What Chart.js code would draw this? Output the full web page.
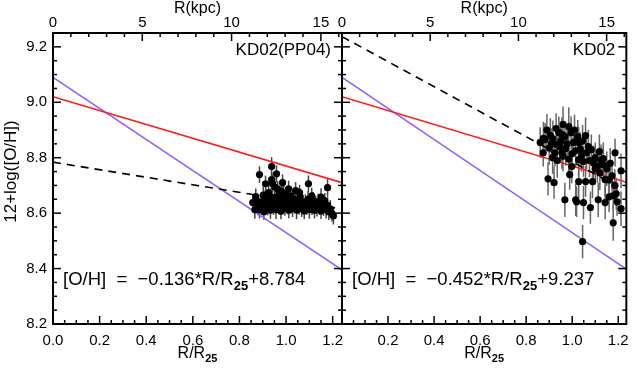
<!DOCTYPE html>
<html>
<head>
<meta charset="utf-8">
<script src="https://cdn.jsdelivr.net/npm/chart.js@4/dist/chart.umd.min.js"></script>
<style>
  html, body { margin: 0; padding: 0; background: #fff; }
  #wrap { position: relative; width: 637px; height: 368px; }
  #wrap canvas { position: absolute; left: 0; top: 0; }
</style>
</head>
<body>
<div id="wrap">
  <canvas id="left" width="637" height="368"></canvas>
  <canvas id="right" width="637" height="368"></canvas>
</div>
<script>
// axes
const xTicksLeft = [0, 0.2, 0.4, 0.6, 0.8, 1.0, 1.2];
const xTicksRight = [0.2, 0.4, 0.6, 0.8, 1.0, 1.2];
const yTicks = [8.2, 8.4, 8.6, 8.8, 9.0, 9.2];
const kpcTicks = [0, 5, 10, 15];
const R25_KPC = 13.05;

// reference gradients (same in both panels)
const refR = [0, 1.24];
const redOH = [9.02, 8.71];
const purpleOH = [9.09, 8.395];

// KD02(PP04) panel
const leftFitR = [0, 1.21];
const leftFitOH = [8.784, 8.619];
const leftR = [0.886,0.938,0.938,0.959,0.912,0.942,0.985,0.964,0.981,1.011,1.041,1.058,1.096,1.178,0.925,0.951,0.970,1.002,
  0.857,0.866,0.874,0.879,0.886,0.893,0.899,0.905,0.910,0.916,0.921,0.928,0.933,0.940,0.946,0.952,0.957,0.962,0.968,0.973,
  0.978,0.984,0.990,0.995,1.000,1.006,1.012,1.017,1.022,1.028,1.033,1.039,1.045,1.050,1.056,1.061,1.067,1.072,1.078,1.083,
  1.089,1.094,1.100,1.105,1.111,1.116,1.122,1.127,1.133,1.138,1.144,1.150,1.155,1.161,1.166,1.172,1.178,1.183,1.190,1.197,
  1.203,0.870,0.902,0.935,0.990,1.020,1.060,1.110,1.150];
const leftOH = [8.739,8.768,8.721,8.742,8.706,8.706,8.710,8.688,8.677,8.688,8.681,8.674,8.706,8.692,8.674,8.695,8.668,8.665,
  8.638,8.612,8.645,8.622,8.612,8.640,8.630,8.605,8.652,8.648,8.620,8.635,8.610,8.642,8.625,8.655,8.612,8.638,8.628,8.648,
  8.607,8.632,8.650,8.618,8.640,8.625,8.610,8.645,8.630,8.617,8.652,8.628,8.610,8.640,8.622,8.648,8.615,8.632,8.608,8.640,
  8.625,8.650,8.612,8.635,8.620,8.645,8.610,8.630,8.618,8.642,8.625,8.608,8.635,8.620,8.645,8.612,8.628,8.605,8.615,8.598,
  8.590,8.660,8.665,8.660,8.672,8.662,8.660,8.662,8.658];
const leftErr = [0.030,0.034,0.028,0.031,0.029,0.033,0.030,0.027,0.032,0.029,0.031,0.028,0.030,0.033,0.029,0.031,0.028,0.030,
  0.029,0.032,0.027,0.030,0.031,0.028,0.033,0.030,0.029,0.031,0.028,0.032,0.030,0.027,0.031,0.029,0.033,0.030,0.028,0.031,
  0.029,0.032,0.030,0.027,0.031,0.029,0.028,0.033,0.030,0.031,0.029,0.027,0.032,0.030,0.028,0.031,0.029,0.033,0.030,0.028,
  0.031,0.029,0.032,0.030,0.027,0.031,0.029,0.033,0.030,0.028,0.031,0.029,0.032,0.030,0.028,0.031,0.029,0.030,0.032,0.028,
  0.031,0.029,0.030,0.032,0.028,0.031,0.029,0.030,0.032];

// KD02 panel
const rightFitR = [0, 1.2];
const rightFitOH = [9.237, 8.695];
const rightR = [0.861,0.882,0.874,0.916,0.942,0.955,0.985,0.968,1.024,1.006,1.058,1.028,0.934,0.946,0.972,0.925,0.955,1.062,
  1.083,1.118,1.135,1.186,1.028,1.049,1.092,1.109,1.135,0.998,0.989,1.173,1.212,0.895,0.921,1.028,1.058,1.088,1.143,
  0.968,1.015,1.019,1.049,1.113,1.079,1.143,1.160,1.178,1.191,1.195,1.212,1.178,1.045,
  0.890,0.905,0.930,0.950,0.960,0.978,0.995,1.010,1.035,1.045,1.070,1.100,1.125,1.150,1.165,0.900,0.915,0.935,0.960,0.985,
  1.000,1.015,1.040,1.075,1.100,1.120,1.160,1.185,0.875,0.910];
const rightOH = [8.855,8.865,8.818,8.869,8.891,8.884,8.912,8.876,8.876,8.855,8.880,8.855,8.847,8.840,8.833,8.818,8.818,8.818,
  8.829,8.822,8.797,8.818,8.793,8.786,8.782,8.768,8.775,8.768,8.739,8.735,8.753,8.724,8.710,8.714,8.714,8.714,8.721,
  8.648,8.648,8.641,8.638,8.648,8.620,8.638,8.659,8.663,8.670,8.641,8.616,8.565,8.497,
  8.900,8.880,8.905,8.860,8.920,8.850,8.890,8.900,8.830,8.860,8.840,8.800,8.790,8.760,8.780,8.835,8.800,8.790,8.805,8.795,
  8.815,8.825,8.805,8.790,8.760,8.745,8.720,8.700,8.870,8.850];
const rightErr = [0.055,0.060,0.050,0.065,0.058,0.062,0.070,0.055,0.060,0.052,0.065,0.058,0.060,0.055,0.062,0.050,0.058,0.060,
  0.055,0.062,0.058,0.050,0.060,0.055,0.062,0.058,0.065,0.060,0.055,0.058,0.062,0.060,0.058,0.062,0.055,0.060,0.058,
  0.062,0.058,0.055,0.060,0.062,0.058,0.060,0.055,0.052,0.058,0.050,0.062,0.065,0.060,
  0.058,0.062,0.055,0.060,0.065,0.058,0.060,0.055,0.062,0.058,0.060,0.055,0.058,0.062,0.055,0.060,0.058,0.062,0.055,0.060,
  0.058,0.062,0.055,0.060,0.058,0.062,0.055,0.058,0.060,0.055];

const FONT = '"Liberation Sans", Arial, sans-serif';

function pts(xs, ys) { return xs.map((x, i) => ({ x: x, y: ys[i] })); }

function drawRich(ctx, parts, x, y, size, align) {
  const fontOf = p => (p.sub ? 'bold ' + Math.round(size * 0.7) : size) + 'px ' + FONT;
  const w = parts.reduce((s, p) => { ctx.font = fontOf(p); return s + ctx.measureText(p.t).width; }, 0);
  let cx = align === 'center' ? x - w / 2 : x;
  ctx.textAlign = 'left';
  parts.forEach(p => {
    ctx.font = fontOf(p);
    ctx.fillText(p.t, cx, p.sub ? y + size * 0.28 : y);
    cx += ctx.measureText(p.t).width;
  });
}

// vertical error bars, drawn under the points
const errorBars = {
  id: 'errorBars',
  beforeDatasetsDraw(chart) {
    const { ctx, scales } = chart;
    const a = chart.chartArea;
    chart.data.datasets.forEach(ds => {
      if (!ds.yErr) return;
      ctx.save();
      ctx.beginPath();
      ctx.rect(a.left, a.top, a.right - a.left, a.bottom - a.top);
      ctx.clip();
      ctx.strokeStyle = ds.errColor;
      ctx.lineWidth = 1.5;
      ds.data.forEach((p, j) => {
        const px = scales.x.getPixelForValue(p.x);
        ctx.beginPath();
        ctx.moveTo(px, scales.y.getPixelForValue(p.y - ds.yErr[j]));
        ctx.lineTo(px, scales.y.getPixelForValue(p.y + ds.yErr[j]));
        ctx.stroke();
      });
      ctx.restore();
    });
  }
};

// box with inward ticks on all sides, like the original plot
const frame = {
  id: 'frame',
  afterDraw(chart) {
    const { ctx, scales } = chart;
    const a = chart.chartArea;
    const eps = 1e-6;
    ctx.save();
    ctx.strokeStyle = '#000';
    ctx.lineWidth = 1.5;
    for (let v = 0; v <= scales.x.max + eps; v += 0.05) {
      const px = scales.x.getPixelForValue(v);
      const major = Math.abs(v / 0.2 - Math.round(v / 0.2)) < 1e-3;
      ctx.beginPath(); ctx.moveTo(px, a.bottom); ctx.lineTo(px, a.bottom - (major ? 8 : 4)); ctx.stroke();
    }
    for (let v = 0; v <= scales.x2.max + eps; v += 1) {
      const px = scales.x2.getPixelForValue(v);
      const major = v % 5 === 0;
      ctx.beginPath(); ctx.moveTo(px, a.top); ctx.lineTo(px, a.top + (major ? 8 : 4)); ctx.stroke();
    }
    for (let v = 8.2; v <= scales.y.max + eps; v += 0.05) {
      const py = scales.y.getPixelForValue(v);
      const k = (v - 8.2) / 0.2;
      const major = Math.abs(k - Math.round(k)) < 1e-3;
      const len = major ? 8 : 4;
      ctx.beginPath(); ctx.moveTo(a.left, py); ctx.lineTo(a.left + len, py); ctx.stroke();
      ctx.beginPath(); ctx.moveTo(a.right, py); ctx.lineTo(a.right - len, py); ctx.stroke();
    }
    ctx.lineWidth = 2;
    ctx.strokeRect(a.left, a.top, a.right - a.left, a.bottom - a.top);
    ctx.restore();
  }
};

const panelText = {
  id: 'panelText',
  afterDraw(chart, args, o) {
    const { ctx } = chart;
    const a = chart.chartArea;
    const cx = (a.left + a.right) / 2;
    ctx.save();
    ctx.fillStyle = '#000';
    ctx.textBaseline = 'middle';
    ctx.font = '16px ' + FONT;
    ctx.textAlign = 'center';
    ctx.fillText('R(kpc)', cx, 9);
    drawRich(ctx, [{ t: 'R/R' }, { t: '25', sub: true }], cx, 354, 16, 'center');
    ctx.font = '17px ' + FONT;
    ctx.textAlign = 'right';
    ctx.fillText(o.label, a.right - 11, 50);
    ctx.textBaseline = 'alphabetic';
    drawRich(ctx, [{ t: '[O/H]  =  \u2212' + o.slope + '*R/R' }, { t: '25', sub: true }, { t: '+' + o.zero }],
      a.left + 10, 285, 18.5, 'left');
    if (o.yTitle) {
      ctx.translate(11, (a.top + a.bottom) / 2 - 7);
      ctx.rotate(-Math.PI / 2);
      ctx.textAlign = 'center';
      ctx.textBaseline = 'middle';
      ctx.font = '17px ' + FONT;
      ctx.fillText(o.yTitle, 0, 0);
    }
    ctx.restore();
  }
};

function makePanel(id, p) {
  const tickFont = { family: FONT, size: 15 };
  return new Chart(document.getElementById(id), {
    type: 'scatter',
    data: {
      datasets: [
        { data: pts(p.r, p.oh), yErr: p.err, errColor: p.errColor, backgroundColor: '#000',
          borderWidth: 0, pointRadius: 3.6, order: 0 },
        { data: pts(p.fitR, p.fitOH), showLine: true, borderColor: '#000', borderWidth: 1.6,
          borderDash: [8, 6], pointRadius: 0, order: 1 },
        { data: pts(refR, redOH), showLine: true, borderColor: '#ff1a1a', borderWidth: 1.6, pointRadius: 0, order: 2 },
        { data: pts(refR, purpleOH), showLine: true, borderColor: '#8c5aff', borderWidth: 1.6, pointRadius: 0, order: 3 }
      ]
    },
    options: {
      responsive: false,
      animation: false,
      layout: { padding: p.padding },
      plugins: {
        legend: { display: false },
        tooltip: { enabled: false },
        panelText: { label: p.label, slope: p.slope, zero: p.zero, yTitle: p.yTitle }
      },
      scales: {
        x: {
          type: 'linear', position: 'bottom', min: 0, max: p.xMax,
          afterBuildTicks: s => { s.ticks = p.xTicks.map(v => ({ value: v })); },
          afterFit: s => { s.height = 44; },
          grid: { display: false, drawTicks: false },
          border: { display: false },
          ticks: { font: tickFont, color: '#000', padding: 8, maxRotation: 0, autoSkip: false,
            callback: v => v.toFixed(1) }
        },
        x2: {
          type: 'linear', position: 'top', min: 0, max: p.xMax * R25_KPC,
          afterBuildTicks: s => { s.ticks = kpcTicks.map(v => ({ value: v })); },
          afterFit: s => { s.height = 33; },
          grid: { display: false, drawTicks: false },
          border: { display: false },
          ticks: { font: tickFont, color: '#000', padding: 1, maxRotation: 0, autoSkip: false }
        },
        y: {
          display: p.showY, min: 8.2, max: 9.25,
          afterBuildTicks: s => { s.ticks = yTicks.map(v => ({ value: v })); },
          afterFit: s => { s.width = p.showY ? 53 : 0; },
          grid: { display: false, drawTicks: false },
          border: { display: false },
          ticks: { font: tickFont, color: '#000', padding: 6, callback: v => v.toFixed(1) }
        }
      }
    },
    plugins: [errorBars, frame, panelText]
  });
}

makePanel('left', {
  r: leftR, oh: leftOH, err: leftErr, errColor: '#444',
  fitR: leftFitR, fitOH: leftFitOH,
  xMax: 1.24, xTicks: xTicksLeft, showY: true,
  padding: { left: 0, right: 295, top: 0, bottom: 0 },
  label: 'KD02(PP04)', slope: '0.136', zero: '8.784', yTitle: '12+log([O/H])'
});

makePanel('right', {
  r: rightR, oh: rightOH, err: rightErr, errColor: '#666',
  fitR: rightFitR, fitOH: rightFitOH,
  xMax: 1.235, xTicks: xTicksRight, showY: false,
  padding: { left: 342, right: 5, top: 0, bottom: 0 },
  label: 'KD02', slope: '0.452', zero: '9.237', yTitle: null
});
</script>
</body>
</html>
